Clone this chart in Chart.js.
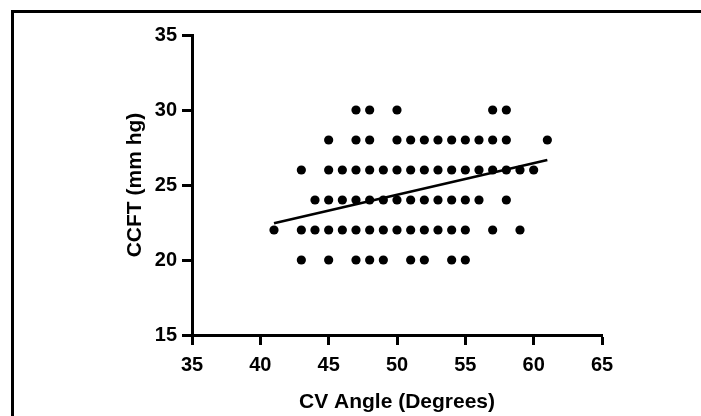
<!DOCTYPE html>
<html>
<head>
<meta charset="utf-8">
<script src="https://cdn.jsdelivr.net/npm/chart.js@4/dist/chart.umd.min.js"></script>
<style>
  body { margin: 0; background: #fff; }
  #wrap { position: relative; width: 701px; height: 416px; overflow: hidden; }
  #frame { position: absolute; left: 11px; top: 10px; right: 0; bottom: 0;
           border-top: 3px solid #000; border-left: 3px solid #000; pointer-events: none; }
</style>
</head>
<body>
<div id="wrap">
  <canvas id="ccftChart" width="701" height="416"></canvas>
  <div id="frame"></div>
</div>
<script>
// CV angle values (degrees) at each CCFT level (mm hg)
const ccftLevels = [30, 28, 26, 24, 22, 20];
const anglesAt30 = [47, 48, 50, 57, 58];
const anglesAt28 = [45, 47, 48, 50, 51, 52, 53, 54, 55, 56, 57, 58, 61];
const anglesAt26 = [43, 45, 46, 47, 48, 49, 50, 51, 52, 53, 54, 55, 56, 57, 58, 59, 60];
const anglesAt24 = [44, 45, 46, 47, 48, 49, 50, 51, 52, 53, 54, 55, 56, 58];
const anglesAt22 = [41, 43, 44, 45, 46, 47, 48, 49, 50, 51, 52, 53, 54, 55, 57, 59];
const anglesAt20 = [43, 45, 47, 48, 49, 51, 52, 54, 55];

// regression line end points
const fitAngle = [41, 61];
const fitCcft = [22.45, 26.67];

const xTicks = [35, 40, 45, 50, 55, 60, 65];
const yTicks = [15, 20, 25, 30, 35];

const angleRows = [anglesAt30, anglesAt28, anglesAt26, anglesAt24, anglesAt22, anglesAt20];
const points = [];
angleRows.forEach((row, i) => {
    row.forEach(a => points.push({x: a, y: ccftLevels[i]}));
});

const tickFont = {family: "'Liberation Sans', Arial, sans-serif", size: 20, weight: 'bold'};
const titleFont = {family: "'Liberation Sans', Arial, sans-serif", size: 21, weight: 'bold'};

const ctx = document.getElementById('ccftChart').getContext('2d');
new Chart(ctx, {
    type: 'scatter',
    data: {
        datasets: [{
            label: 'Patients',
            data: points,
            backgroundColor: '#000',
            borderColor: '#000',
            borderWidth: 0,
            pointRadius: 4.6,
            pointHoverRadius: 4.6
        }, {
            type: 'line',
            label: 'Fit',
            data: fitAngle.map((a, i) => ({x: a, y: fitCcft[i]})),
            borderColor: '#000',
            borderWidth: 2.6,
            pointRadius: 0,
            fill: false
        }]
    },
    options: {
        responsive: false,
        animation: false,
        devicePixelRatio: 1,
        layout: {
            padding: {left: 0, top: 35, right: 99, bottom: 0}
        },
        plugins: {
            legend: {display: false},
            tooltip: {enabled: false}
        },
        scales: {
            x: {
                type: 'linear',
                min: 35,
                max: 65,
                afterBuildTicks: s => { s.ticks = xTicks.map(v => ({value: v})); },
                afterFit: s => { s.height = 81; },
                ticks: {color: '#000', font: tickFont, padding: 8},
                grid: {drawOnChartArea: false, drawTicks: true, tickLength: 10, tickWidth: 3, tickColor: '#000'},
                border: {display: true, color: '#000', width: 3},
                title: {
                    display: true,
                    text: 'CV Angle (Degrees)',
                    color: '#000',
                    font: titleFont,
                    padding: {top: 0, bottom: 1}
                }
            },
            y: {
                type: 'linear',
                min: 15,
                max: 35,
                afterBuildTicks: s => { s.ticks = yTicks.map(v => ({value: v})); },
                afterFit: s => { s.width = 192; },
                ticks: {color: '#000', font: tickFont, padding: 5},
                grid: {drawOnChartArea: false, drawTicks: true, tickLength: 10, tickWidth: 3, tickColor: '#000'},
                border: {display: true, color: '#000', width: 3},
                title: {
                    display: true,
                    text: 'CCFT (mm hg)',
                    color: '#000',
                    font: titleFont,
                    padding: {top: 123, bottom: 0}
                }
            }
        }
    }
});
</script>
</body>
</html>
